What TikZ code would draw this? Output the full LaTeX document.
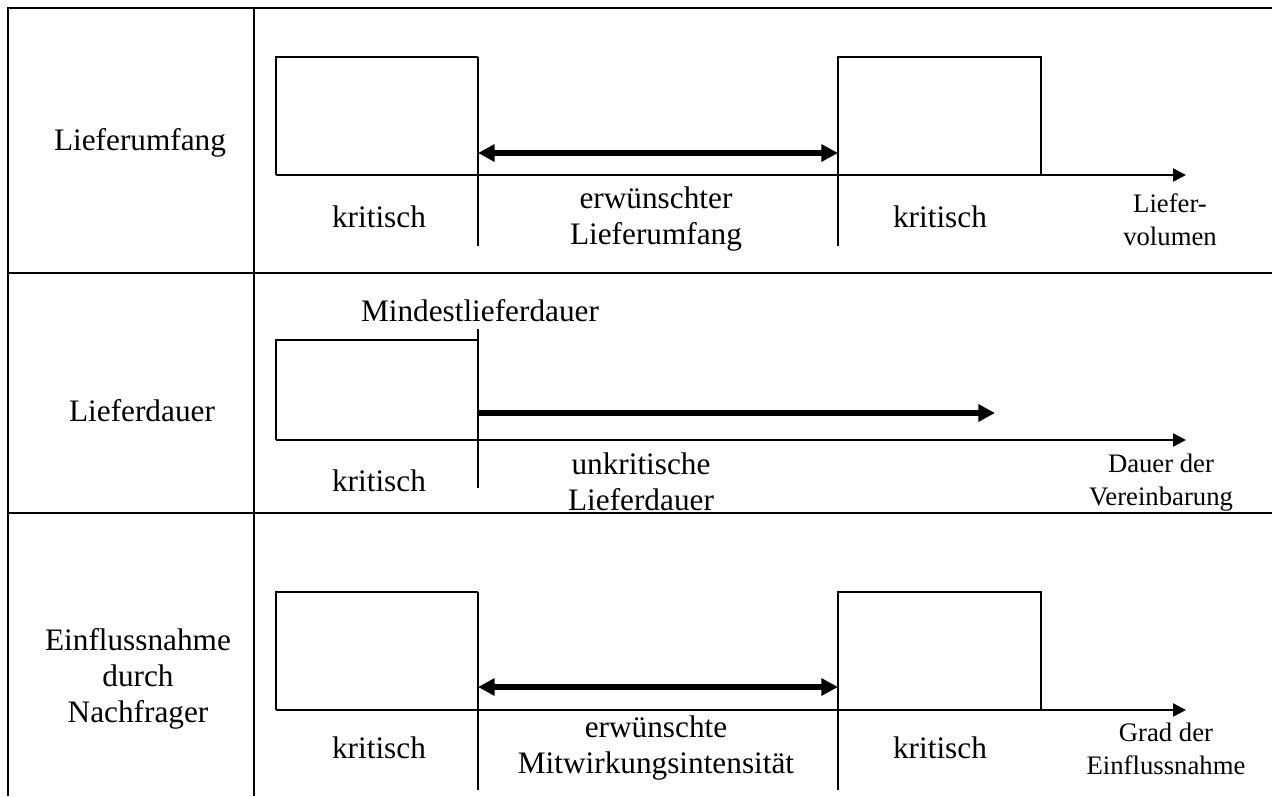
\documentclass[tikz,border=0pt]{standalone}
\usepackage{fontspec}
\setmainfont{Liberation Serif}
\usetikzlibrary{arrows.meta}
\begin{document}
\begin{tikzpicture}[x=0.02cm,y=-0.02cm,
  grid/.style={line width=1.1pt},
  bar/.style={line width=1.1pt},
  axis/.style={line width=1.4pt,-{Triangle[length=7.4pt,width=7.4pt]}},
  span/.style={line width=2.9pt,{Triangle[length=9.5pt,width=9.5pt]}-{Triangle[length=9.5pt,width=9.5pt]}},
  push/.style={line width=2.9pt,-{Triangle[length=9.5pt,width=9.5pt]}},
  lbl/.style={font=\fontsize{17.8}{20.4}\selectfont,align=center,inner sep=0pt},
  note/.style={font=\fontsize{15.2}{18.7}\selectfont,align=center,inner sep=0pt}]
\useasboundingbox (0,0) rectangle (1272,796);

% table frame
\draw[grid] (8,796) -- (8,8) -- (1272,8);
\draw[grid] (254,8) -- (254,796);
\draw[grid] (8,273) -- (1272,273);
\draw[grid] (8,513) -- (1272,513);

% row titles
\node[lbl] (t1) at (140,143) {Lieferumfang};
\node[lbl] (t2) at (142,411) {Lieferdauer};
\node[lbl] (t3) at (138,679) {Einflussnahme\\durch\\Nachfrager};

% ---- row 1: Lieferumfang
\coordinate (a1s) at (276,175);
\coordinate (a1e) at (1186,175);
\draw[bar] (a1s) |- (478,57);
\draw[bar] (478,57) -- (478,246);
\draw[bar] (838,246) -- (838,57) -| (1041,175);
\draw[axis] (a1s) -- (a1e);
\coordinate (r1l) at (478,153);
\coordinate (r1r) at (838,153);
\draw[span] (r1l) -- (r1r);
\node[lbl] (k11) at (379,217) {kritisch};
\node[lbl] (m1) at (656,219) {erwünschter\\Lieferumfang};
\node[lbl] (k12) at (940,217) {kritisch};
\node[note] (x1) at (1170,220) {Liefer-\\volumen};

% ---- row 2: Lieferdauer
\coordinate (a2s) at (276,440);
\coordinate (a2e) at (1186,440);
\draw[bar] (a2s) |- (478,340);
\draw[bar] (478,329) -- (478,488);
\draw[axis] (a2s) -- (a2e);
\coordinate (r2l) at (478,413);
\coordinate (r2r) at (995,413);
\draw[push] (r2l) -- (r2r);
\node[lbl] (md) at (480,311) {Mindestlieferdauer};
\node[lbl] (k21) at (379,481) {kritisch};
\node[lbl] (m2) at (641,482) {unkritische\\Lieferdauer};
\node[note] (x2) at (1161,483) {Dauer der\\Vereinbarung};

% ---- row 3: Einflussnahme durch Nachfrager
\coordinate (a3s) at (276,710);
\coordinate (a3e) at (1186,710);
\draw[bar] (a3s) |- (478,592);
\draw[bar] (478,592) -- (478,790);
\draw[bar] (838,790) -- (838,592) -| (1041,710);
\draw[axis] (a3s) -- (a3e);
\coordinate (r3l) at (478,687);
\coordinate (r3r) at (838,687);
\draw[span] (r3l) -- (r3r);
\node[lbl] (k31) at (379,748) {kritisch};
\node[lbl] (m3) at (656,748) {erwünschte\\Mitwirkungsintensität};
\node[lbl] (k32) at (940,748) {kritisch};
\node[note] (x3) at (1166,749) {Grad der\\Einflussnahme};
\end{tikzpicture}
\end{document}
